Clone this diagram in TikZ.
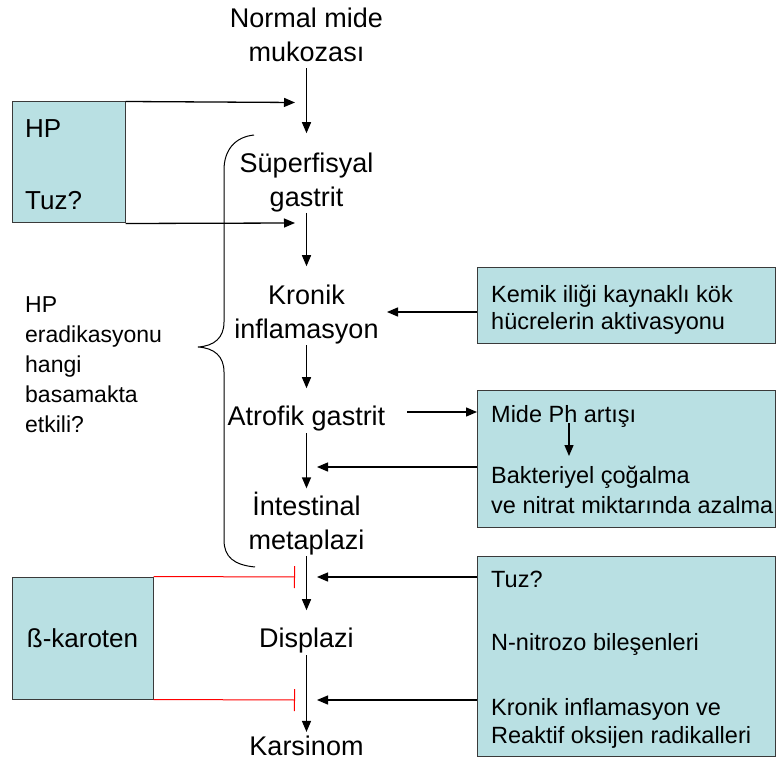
\documentclass[tikz,border=0pt]{standalone}
\usepackage{fontspec}
\setmainfont{Liberation Sans}
\usetikzlibrary{arrows.meta}
\definecolor{boxfill}{HTML}{B9E0E3}
\definecolor{boxline}{HTML}{3A3A3A}
\begin{document}
\begin{tikzpicture}[x=1pt,y=-1pt,
  main/.style={font=\fontsize{27}{34}\selectfont, align=center, inner sep=0pt, anchor=base},
  boxtxt/.style={font=\fontsize{23.5}{28}\selectfont, align=left, inner sep=0pt, anchor=base west},
  sidetxt/.style={font=\fontsize{23}{30}\selectfont, align=left, inner sep=0pt, anchor=base west},
  bluebox/.style={draw=boxline, fill=boxfill, line width=1pt, inner sep=0pt},
  arr/.style={line width=1.3pt, -{Triangle[length=11pt,width=9pt]}},
  block/.style={red, line width=1pt, -{Bar[width=22pt,line width=1pt]}},
  brace/.style={line width=1pt},
]
\useasboundingbox (0,0) rectangle (779,767);

% blue boxes
\node[bluebox, minimum width=113pt, minimum height=121pt] (hpbox) at (68.5,162.5) {};
\node[bluebox, minimum width=141pt, minimum height=122pt, font=\fontsize{26}{30}\selectfont] (beta) at (82.5,638) {ß-karoten};
\node[bluebox, minimum width=298pt, minimum height=75pt] (box1) at (626,305.5) {};
\node[bluebox, minimum width=298pt, minimum height=137pt] (box2) at (626,458.5) {};
\node[bluebox, minimum width=298pt, minimum height=200pt] (box3) at (626,656) {};

% texts in boxes (multi-line nodes are placed by their last baseline)
\node[font=\fontsize{26}{30}\selectfont, inner sep=0pt, anchor=base west] (hp) at (25,138) {HP};
\node[font=\fontsize{26}{30}\selectfont, inner sep=0pt, anchor=base west] (tuz) at (25,210) {Tuz?};
\node[boxtxt] (kemik) at (491,330) {Kemik iliği kaynaklı kök\\hücrelerin aktivasyonu};
\node[boxtxt] (ph) at (491,422) {Mide Ph artışı};
\node[boxtxt] (bakt) at (491,513) {Bakteriyel çoğalma\\[2pt]ve nitrat miktarında azalma};
\node[boxtxt] (tuz3) at (491,587) {Tuz?};
\node[boxtxt] (nitro) at (491,650) {N-nitrozo bileşenleri};
\node[boxtxt] (reakt) at (491,743) {Kronik inflamasyon ve\\Reaktif oksijen radikalleri};

% side text
\node[sidetxt] (erad) at (25,432) {HP\\eradikasyonu\\hangi\\basamakta\\etkili?};

% main column
\node[main] (normal) at (306.5,62) {Normal mide\\mukozası};
\node[main] (sup) at (306.5,207) {Süperfisyal\\gastrit};
\node[main] (kronik) at (306.5,338) {Kronik\\inflamasyon};
\node[main] (atrofik) at (306.5,425) {Atrofik gastrit};
\node[main] (intest) at (306.5,549) {İntestinal\\metaplazi};
\node[main] (displ) at (306.5,647) {Displazi};
\node[main] (kars) at (306.5,755) {Karsinom};

% main arrows
\draw[arr, shorten <=6pt, shorten >=20pt] (normal) -- (sup);
\draw[arr, shorten <=0pt, shorten >=18pt] (sup) -- (kronik);
\draw[arr, shorten <=1.3pt, shorten >=17pt] (kronik) -- (atrofik);
\draw[arr, shorten <=2.3pt, shorten >=3pt] (atrofik) -- (intest);
\draw[arr, shorten <=1.3pt, shorten >=17pt] (intest) -- (displ);
\draw[arr, shorten <=2.3pt, shorten >=3.3pt] (displ) -- (kars);

% coordinates for free arrow ends
\coordinate (hpend) at (295,102.5);
\coordinate (tuzend) at (295,223);
\coordinate (kend) at (387,312);
\coordinate (aend) at (477,412);
\coordinate (iend) at (317,467);
\coordinate (dend) at (317,577);
\coordinate (cend) at (317,700);
\coordinate (bar1) at (295,577);
\coordinate (bar2) at (295,700);
\coordinate (ph1) at (569,423);
\coordinate (ph2) at (569,456);

\draw[arr] (hpbox.north east) -- (hpend);
\draw[arr] (hpbox.south east) -- (tuzend);
\draw[arr] (box1.west |- kend) -- (kend);
\draw[arr, shorten <=22pt] (atrofik.east |- aend) -- (aend);
\draw[arr] (box2.west |- iend) -- (iend);
\draw[arr] (box3.west |- dend) -- (dend);
\draw[arr] (box3.west |- cend) -- (cend);
\draw[arr] (ph1) -- (ph2);

% inhibition lines
\draw[block] (beta.north east) -- (bar1);
\draw[block] (beta.south east) -- (bar2);

% brace
\draw[brace] (254,135) .. controls (235,137) and (224,150) .. (224,170)
  -- (224,322) .. controls (224,338) and (214,346) .. (198,347)
  .. controls (214,348) and (224,356) .. (224,372)
  -- (224,540) .. controls (224,557) and (234,565) .. (255,567);
\end{tikzpicture}
\end{document}
